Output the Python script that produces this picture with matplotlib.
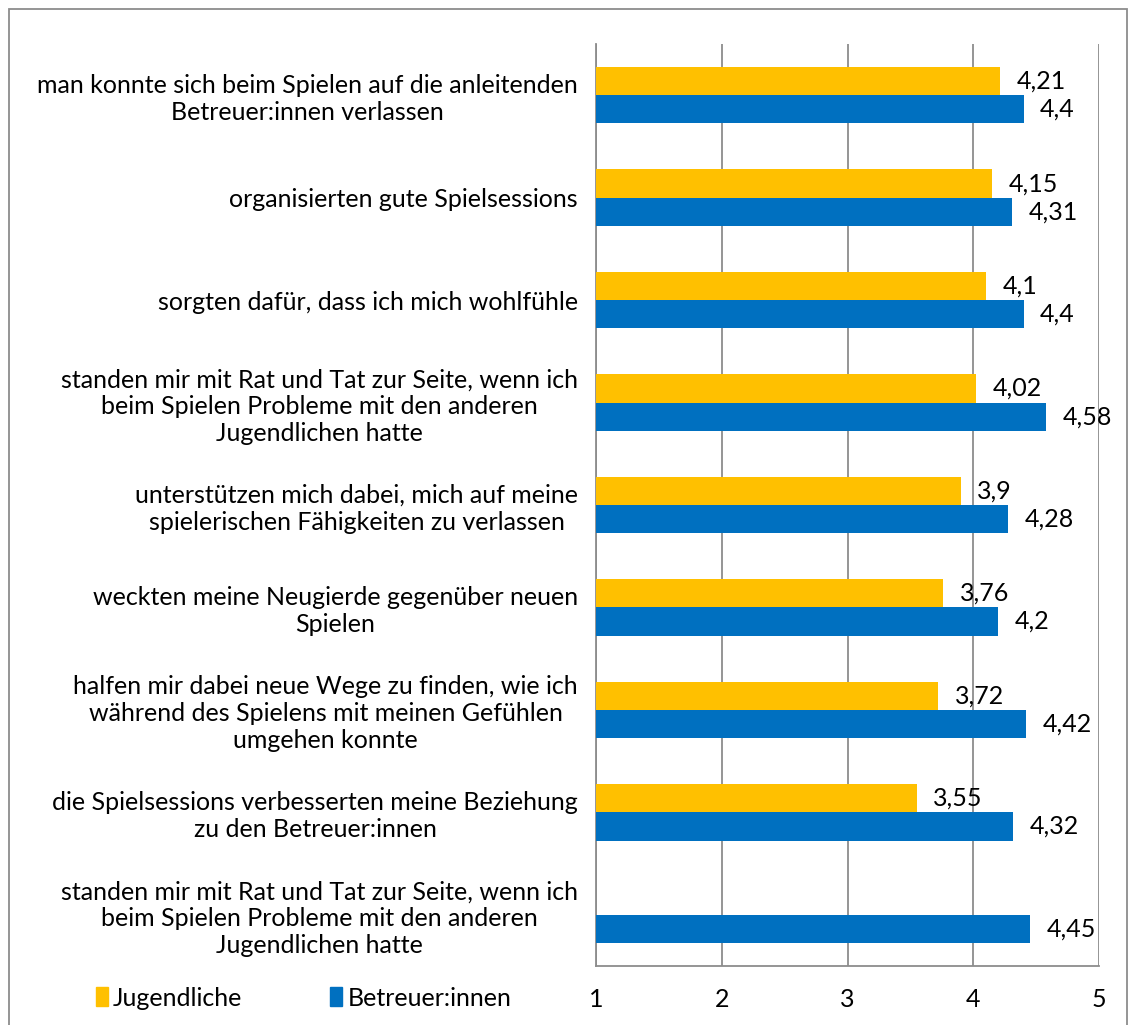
import matplotlib.pyplot as plt
from matplotlib.patches import Rectangle, Patch
import numpy as np

plt.rcParams['font.family'] = ['Lato', 'DejaVu Sans']

# Aussagen (von oben nach unten)
categories = [
    "man konnte sich beim Spielen auf die anleitenden\nBetreuer:innen verlassen",
    "organisierten gute Spielsessions",
    "sorgten dafür, dass ich mich wohlfühle",
    "standen mir mit Rat und Tat zur Seite, wenn ich\nbeim Spielen Probleme mit den anderen\nJugendlichen hatte",
    "unterstützen mich dabei, mich auf meine\nspielerischen Fähigkeiten zu verlassen",
    "weckten meine Neugierde gegenüber neuen\nSpielen",
    "halfen mir dabei neue Wege zu finden, wie ich\nwährend des Spielens mit meinen Gefühlen\numgehen konnte",
    "die Spielsessions verbesserten meine Beziehung\nzu den Betreuer:innen",
    "standen mir mit Rat und Tat zur Seite, wenn ich\nbeim Spielen Probleme mit den anderen\nJugendlichen hatte",
]
jugendliche = [4.21, 4.15, 4.1, 4.02, 3.9, 3.76, 3.72, 3.55, None]
betreuer = [4.4, 4.31, 4.4, 4.58, 4.28, 4.2, 4.42, 4.32, 4.45]
series_names = ["Jugendliche", "Betreuer:innen"]
colors = ["#FFC000", "#0070C0"]

fig = plt.figure(figsize=(11.31, 10.25), dpi=100)
ax = fig.add_axes([596 / 1131, 1 - 966 / 1025, (1099 - 596) / 1131, (966 - 44) / 1025])

y = np.arange(len(categories))
h = 0.275
fs = 18


def fmt(v):
    return ("%g" % v).replace(".", ",")


for vals, off, col in [(jugendliche, -h / 2, colors[0]), (betreuer, h / 2, colors[1])]:
    for i, v in enumerate(vals):
        if v is None:
            continue
        ax.barh(y[i] + off, v - 1, left=1, height=h, color=col, zorder=3)
        ax.annotate(fmt(v), (v, y[i] + off), xytext=(12, 0), textcoords='offset points',
                    va='center', ha='left', fontsize=fs, color='black')

ax.set_xlim(1, 5)
ax.set_ylim(len(categories) - 0.5, -0.5)
ax.set_xticks([1, 2, 3, 4, 5])
ax.set_xticklabels(['1', '2', '3', '4', '5'], fontsize=fs)
ax.set_yticks(y)
ax.set_yticklabels(categories, fontsize=fs, multialignment='center')
ax.tick_params(axis='y', length=0, pad=13)
ax.tick_params(axis='x', length=0, pad=16)
ax.grid(axis='x', color='#8c8c8c', linewidth=1.3, zorder=0)
for s in ['top', 'right']:
    ax.spines[s].set_visible(False)
ax.spines['left'].set_color('#8c8c8c')
ax.spines['bottom'].set_color('#8c8c8c')
ax.spines['left'].set_linewidth(1.3)
ax.spines['bottom'].set_linewidth(1.3)

handles = [Patch(color=c) for c in colors]
fig.legend(handles, series_names, loc='center left', bbox_to_anchor=(73 / 1131, 1 - 998 / 1025),
           ncol=2, frameon=False, fontsize=fs, handlelength=0.5, handleheight=0.8,
           handletextpad=0.2, columnspacing=3.5)

fig.patches.append(Rectangle((9 / 1131, -0.01), (1127 - 9) / 1131, 1 - 9 / 1025 + 0.01,
                             transform=fig.transFigure, fill=False, edgecolor='#8c8c8c',
                             linewidth=1.3))

fig.savefig('out.png', dpi=100)
